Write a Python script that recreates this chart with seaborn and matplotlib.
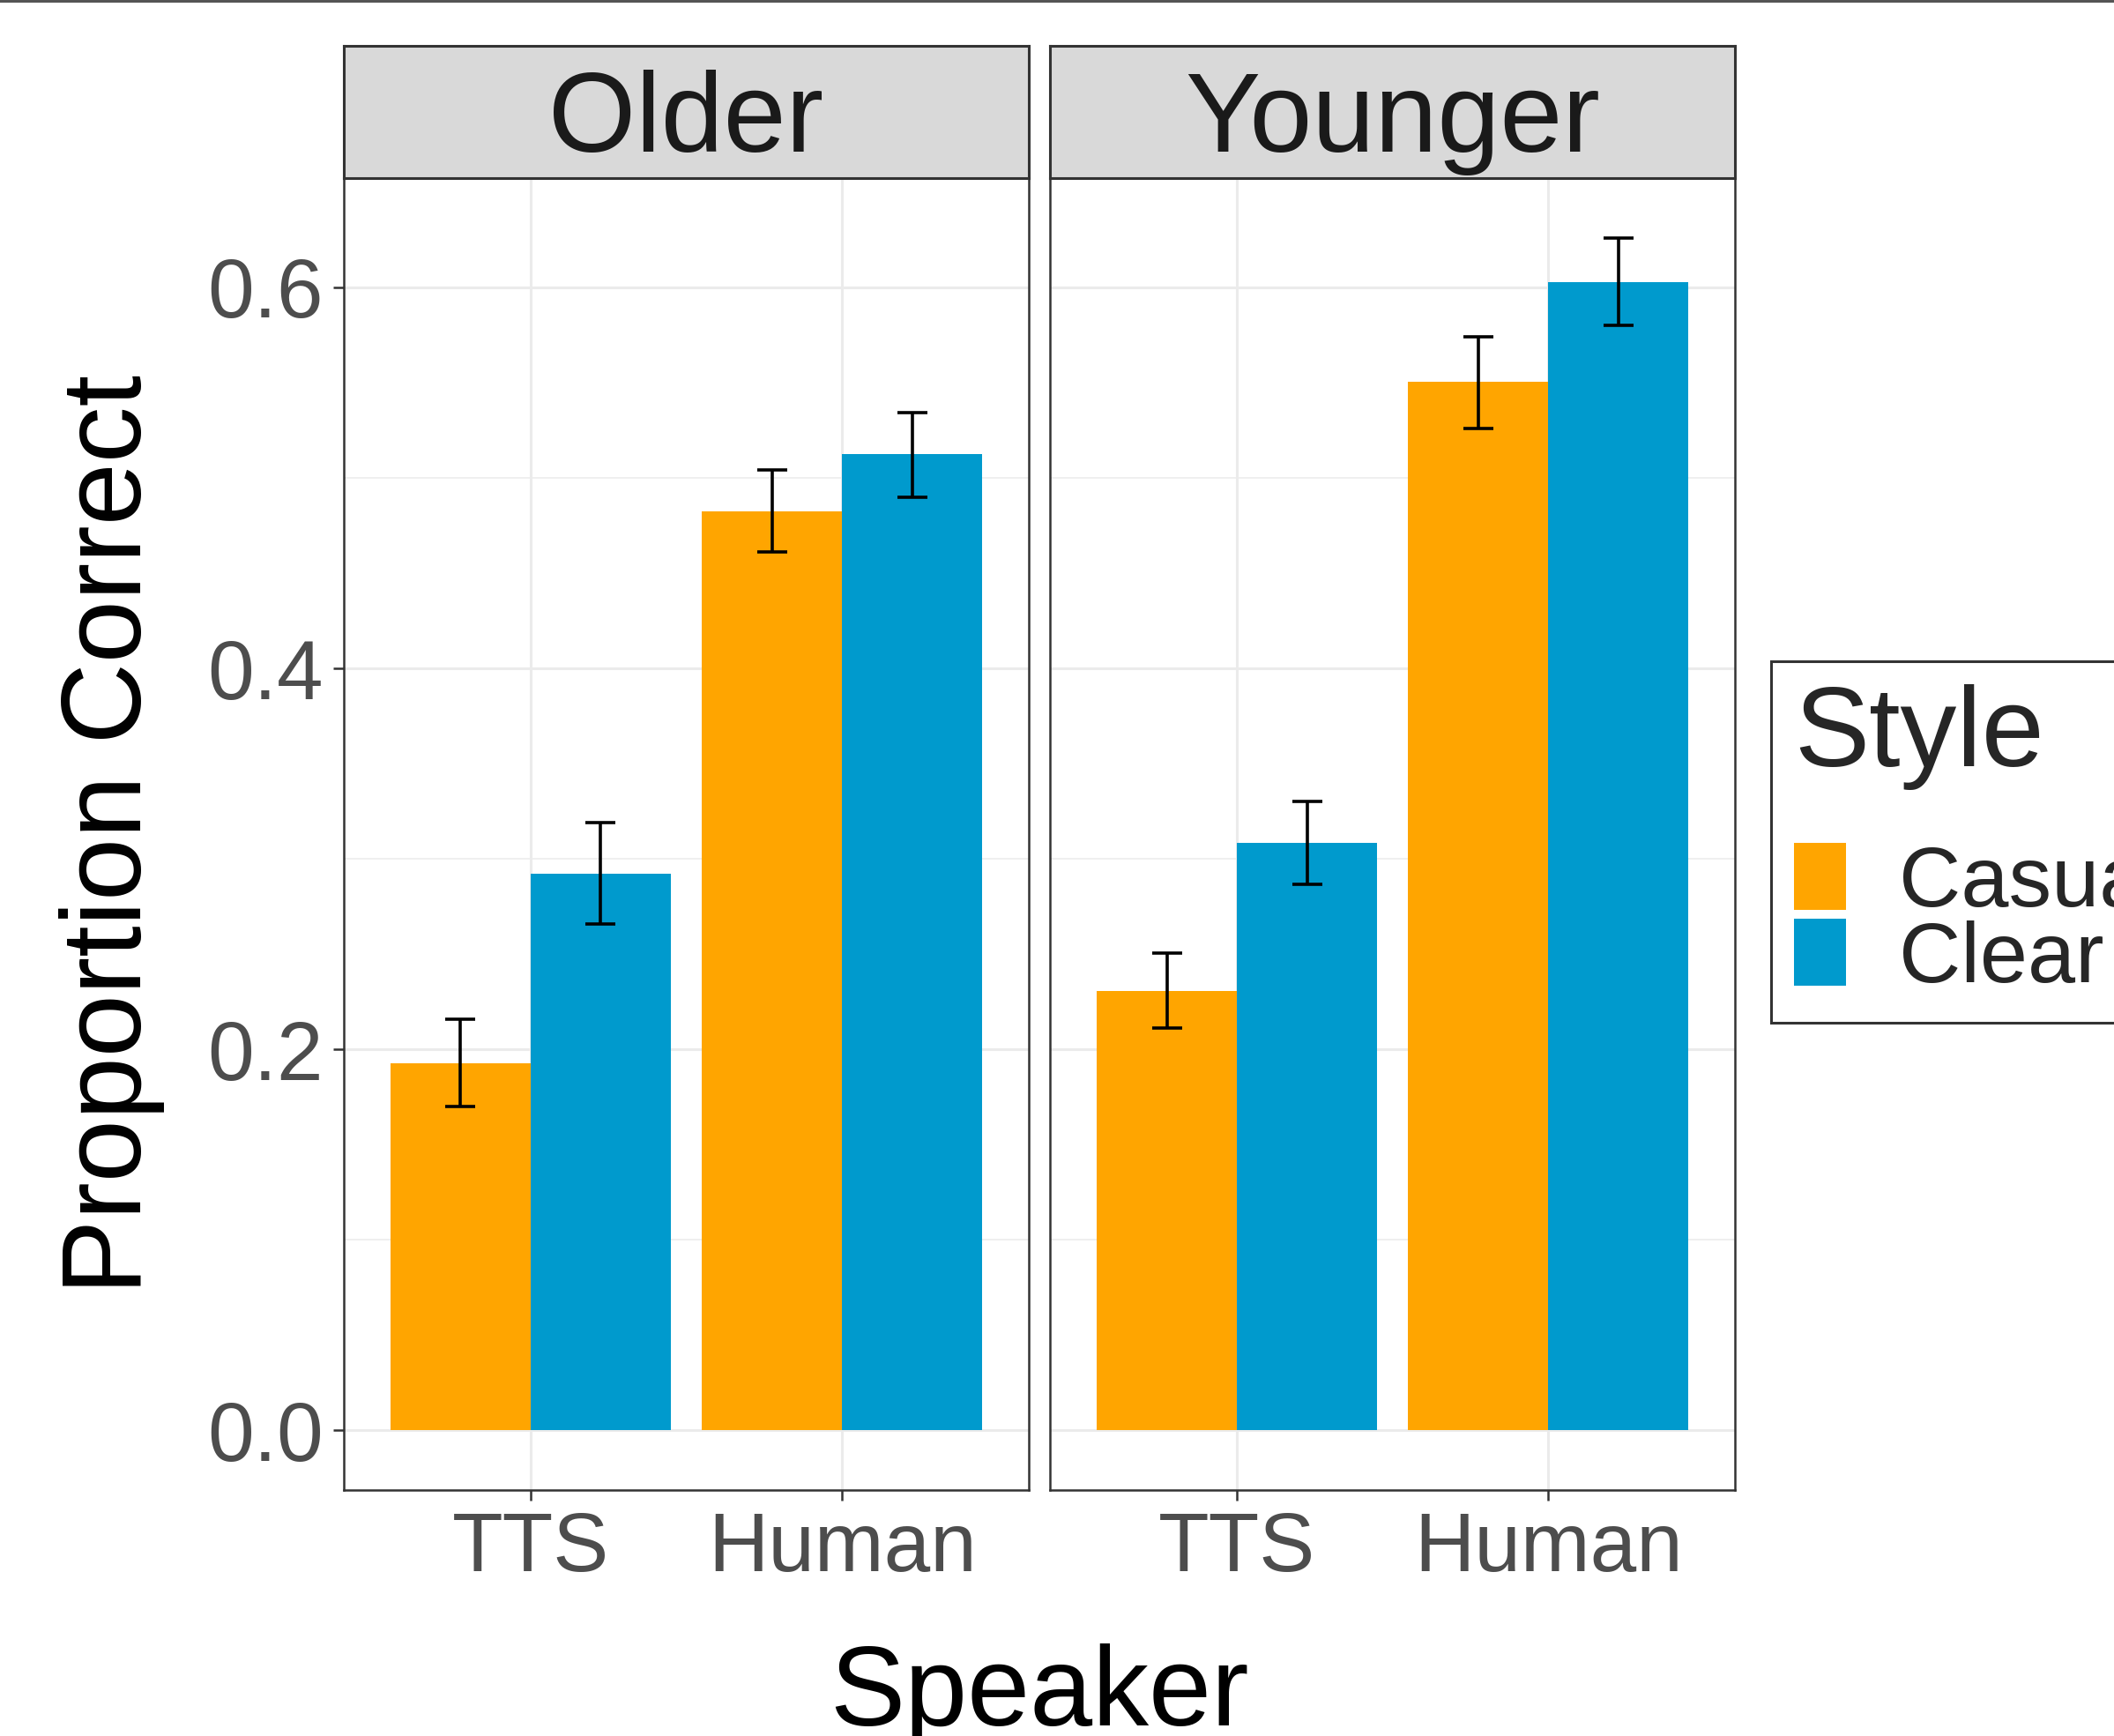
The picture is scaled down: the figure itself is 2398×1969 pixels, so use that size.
import matplotlib
matplotlib.use('Agg')
import matplotlib.pyplot as plt
from matplotlib.patches import Rectangle
import seaborn as sns
import numpy as np
import pandas as pd

# Chart data
GROUPS = ['Older', 'Younger']
SPEAKERS = ['TTS', 'Human']
STYLES = ['Casual', 'Clear']

# means, order: TTS-Casual, TTS-Clear, Human-Casual, Human-Clear
OLDER_MEAN = [0.1925, 0.2922, 0.4826, 0.5123]
OLDER_LOW = [0.170, 0.266, 0.461, 0.490]
OLDER_HIGH = [0.216, 0.319, 0.504, 0.534]

YOUNGER_MEAN = [0.2307, 0.3085, 0.5505, 0.6028]
YOUNGER_LOW = [0.211, 0.2866, 0.526, 0.580]
YOUNGER_HIGH = [0.2505, 0.330, 0.5738, 0.626]

PALETTE = {'Casual': '#FFA500', 'Clear': '#009ACD'}

GRID = '#EBEBEB'
DARK = '#333333'
TICK_TXT = '#4D4D4D'

sns.set_style('white')
plt.rcParams['font.family'] = ['Liberation Sans', 'DejaVu Sans']


def build_frame():
    rows = []
    for group, means, lows, highs in zip(
            GROUPS, [OLDER_MEAN, YOUNGER_MEAN], [OLDER_LOW, YOUNGER_LOW],
            [OLDER_HIGH, YOUNGER_HIGH]):
        i = 0
        for speaker in SPEAKERS:
            for style in STYLES:
                rows.append({'Age': group, 'Speaker': speaker, 'Style': style,
                             'Proportion': means[i], 'Low': lows[i],
                             'High': highs[i]})
                i += 1
    return pd.DataFrame(rows)


def main():
    df = build_frame()

    fig = plt.figure(figsize=(2398 / 200, 1969 / 200), dpi=200)

    # panel positions in figure fractions
    bottom, top, strip_top = 0.1417, 0.8974, 0.9736
    lefts = [0.1626, 0.4967]
    width = 0.4867 - 0.1626

    ymax = df['High'].max()
    ylim = (-0.05 * ymax, ymax * 1.05)

    axes = []
    for k, group in enumerate(GROUPS):
        ax = fig.add_axes([lefts[k], bottom, width, top - bottom])
        sub = df[df['Age'] == group]
        sns.barplot(data=sub, x='Speaker', y='Proportion', hue='Style',
                    order=SPEAKERS, hue_order=STYLES, palette=PALETTE,
                    width=0.9, errorbar=None, saturation=1, linewidth=0,
                    ax=ax, zorder=2)

        # error bars at bar centres
        for container, style in zip(ax.containers, STYLES):
            xs, ys, lo, hi = [], [], [], []
            for bar, speaker in zip(container, SPEAKERS):
                row = sub[(sub['Speaker'] == speaker) & (sub['Style'] == style)].iloc[0]
                xs.append(bar.get_x() + bar.get_width() / 2)
                ys.append(row['Proportion'])
                lo.append(row['Proportion'] - row['Low'])
                hi.append(row['High'] - row['Proportion'])
            ax.errorbar(xs, ys, yerr=[lo, hi], fmt='none', ecolor='black',
                        elinewidth=1.3, capsize=6, capthick=1.3, zorder=3)

        ax.set_xlim(-0.6, 1.6)
        ax.set_ylim(*ylim)
        ax.set_yticks([0.0, 0.2, 0.4, 0.6])
        ax.set_yticklabels(['0.0', '0.2', '0.4', '0.6'])
        ax.set_yticks([0.1, 0.3, 0.5], minor=True)
        ax.grid(True, which='major', axis='both', color=GRID, linewidth=1.1,
                zorder=0)
        ax.grid(True, which='minor', axis='y', color=GRID, linewidth=0.55,
                zorder=0)
        ax.set_axisbelow(True)
        ax.set_xlabel('')
        ax.set_ylabel('')
        for spine in ax.spines.values():
            spine.set_visible(True)
            spine.set_color(DARK)
            spine.set_linewidth(0.9)
        ax.tick_params(axis='both', which='major', length=4.3, width=0.9,
                       color=DARK, labelsize=34, labelcolor=TICK_TXT, pad=4)
        ax.tick_params(axis='y', which='minor', length=0)
        ax.tick_params(axis='x', bottom=True)
        ax.tick_params(axis='y', left=(k == 0), labelleft=(k == 0))

        # facet strip
        sax = fig.add_axes([lefts[k], top, width, strip_top - top])
        sax.set_facecolor('#D9D9D9')
        sax.set_xticks([])
        sax.set_yticks([])
        for spine in sax.spines.values():
            spine.set_visible(True)
            spine.set_color(DARK)
            spine.set_linewidth(1.1)
        sax.text(0.5, 0.2, group, ha='center', va='baseline', fontsize=46,
                 color='#1A1A1A', transform=sax.transAxes)
        axes.append(ax)

    # legend taken from the seaborn one
    leg = axes[0].get_legend()
    handles = leg.legend_handles
    labels = [t.get_text() for t in leg.get_texts()]
    for ax in axes:
        if ax.get_legend() is not None:
            ax.get_legend().remove()
    new_leg = fig.legend(handles, labels, title='Style', loc='upper left',
                         bbox_to_anchor=(0.8378, 0.6191), fontsize=35,
                         title_fontsize=46, alignment='left', frameon=True,
                         fancybox=False, edgecolor='black', handlelength=0.6,
                         handleheight=0.826, handletextpad=0.62,
                         labelspacing=-0.06, borderpad=0.27, borderaxespad=0)
    new_leg.get_frame().set_linewidth(1.1)
    # gap between legend title and keys (points)
    new_leg._legend_box.sep = 21.5

    # axis titles
    fig.text(0.053, 0.5195, 'Proportion Correct', rotation=90, ha='center',
             va='center', fontsize=46, color='black')
    fig.text(0.4917, 0.006, 'Speaker', ha='center', va='baseline',
             fontsize=46, color='black')

    # thin dark line along the top edge
    fig.add_artist(Rectangle((0, 1 - 3 / 1969), 1, 3 / 1969,
                             transform=fig.transFigure, color='#555555',
                             linewidth=0))

    fig.savefig('out.png', dpi=200)
    plt.close()


if __name__ == "__main__":
    main()
